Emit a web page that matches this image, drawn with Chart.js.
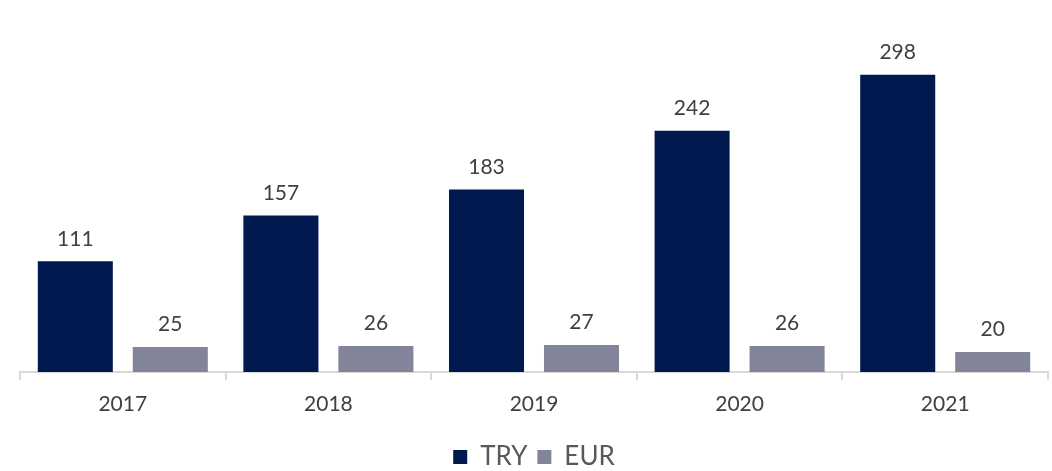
<!DOCTYPE html>
<html>
<head>
<meta charset="utf-8">
<script src="https://cdn.jsdelivr.net/npm/chart.js@4/dist/chart.umd.min.js"></script>
<style>
  html, body { margin: 0; padding: 0; background: #fff; }
  #wrap { width: 1052px; height: 471px; }
</style>
</head>
<body>
<div id="wrap"><canvas id="barChart"></canvas></div>
<script>
const years = ['2017', '2018', '2019', '2020', '2021'];
const tryValues = [111, 157, 183, 242, 298];
const eurValues = [25, 26, 27, 26, 20];

const FONT = "Lato, 'Open Sans', sans-serif";

// draws the number above each bar
const valueLabels = {
    id: 'valueLabels',
    afterDatasetsDraw(chart) {
        const ctx = chart.ctx;
        ctx.save();
        ctx.font = '21px ' + FONT;
        ctx.fillStyle = '#404040';
        ctx.textAlign = 'center';
        ctx.textBaseline = 'bottom';
        chart.data.datasets.forEach((ds, i) => {
            chart.getDatasetMeta(i).data.forEach((bar, j) => {
                ctx.fillText(ds.data[j], bar.x, bar.y - 12);
            });
        });
        ctx.restore();
    }
};

new Chart(document.getElementById('barChart'), {
    type: 'bar',
    data: {
        labels: years,
        datasets: [
            { label: 'TRY', data: tryValues, backgroundColor: '#001a4f' },
            { label: 'EUR', data: eurValues, backgroundColor: '#82849a' }
        ]
    },
    options: {
        responsive: true,
        maintainAspectRatio: false,
        animation: false,
        categoryPercentage: 0.924,
        barPercentage: 0.79,
        layout: { padding: { left: 20, right: 4, top: 0, bottom: -9 } },
        plugins: {
            tooltip: { enabled: false },
            legend: {
                position: 'bottom',
                labels: {
                    color: '#595959',
                    font: { family: FONT, size: 26 },
                    boxWidth: 14,
                    boxHeight: 14,
                    padding: 10
                }
            }
        },
        scales: {
            x: {
                border: { color: '#d9d9d9', width: 2 },
                grid: { display: true, drawOnChartArea: false, offset: true, tickLength: 8, color: '#d9d9d9', lineWidth: 2 },
                ticks: { color: '#404040', font: { family: FONT, size: 21 }, padding: 12 },
                afterFit(scale) { scale.height = 62; }
            },
            y: {
                display: false,
                min: 0,
                max: 373
            }
        }
    },
    plugins: [valueLabels]
});
</script>
</body>
</html>
